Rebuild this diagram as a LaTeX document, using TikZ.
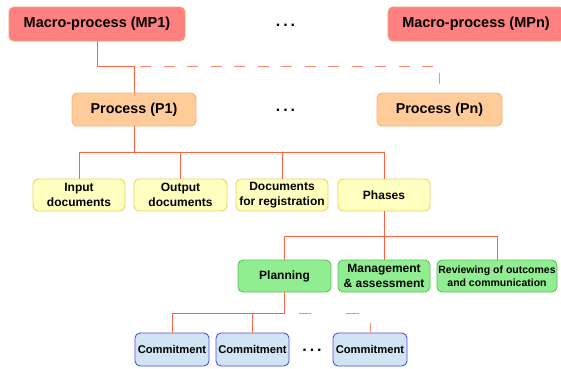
\documentclass[tikz,border=0pt]{standalone}
\usepackage{fontspec}
\setmainfont{Liberation Sans}
\begin{document}
\begin{tikzpicture}[x=1pt,y=-1pt,
  box/.style={draw, rounded corners=5pt, line width=0.9pt, inner sep=0pt, align=center, font=\bfseries, text=black},
  mpbox/.style={box, fill=mpfill, draw=mpline, minimum width=176pt, minimum height=34pt, font=\fontsize{14.5}{17}\bfseries},
  pbox/.style={box, fill=pfill, draw=pline, minimum width=124pt, minimum height=33pt, font=\fontsize{14.3}{17}\bfseries},
  ybox/.style={box, fill=yfill, draw=yline, minimum width=92pt, minimum height=32pt, font=\fontsize{12}{14.5}\bfseries},
  gbox/.style={box, fill=gfill, draw=gline, minimum width=93pt, minimum height=32pt, font=\fontsize{12}{14.5}\bfseries},
  bbox/.style={box, fill=bfill, draw=bline, minimum width=74pt, minimum height=33pt, font=\fontsize{11.2}{13}\bfseries},
  conn/.style={draw=connc, line width=1pt},
  dconn/.style={draw=dconnc, line width=1pt},
  dots/.style={font=\fontsize{16}{18}\bfseries, inner sep=0pt, anchor=base}
]
\definecolor{mpfill}{HTML}{FF8080}
\definecolor{mpline}{HTML}{F2A070}
\definecolor{pfill}{HTML}{FFCC99}
\definecolor{pline}{HTML}{F7B080}
\definecolor{yfill}{HTML}{FFFFC0}
\definecolor{yline}{HTML}{F0D060}
\definecolor{gfill}{HTML}{90EE90}
\definecolor{gline}{HTML}{60C060}
\definecolor{bfill}{HTML}{D0E4F4}
\definecolor{bline}{HTML}{5050E0}
\definecolor{connc}{HTML}{FF6440}
\definecolor{dconnc}{HTML}{FF8C70}
\newcommand{\mydots}{.\hspace{2.9pt}.\hspace{2.9pt}.}
\useasboundingbox (0,0) rectangle (561,368);

\node[mpbox] (mp1) at (97,24) {Macro-process (MP1)};
\node[mpbox] (mpn) at (476,24) {Macro-process (MPn)};
\node[dots] (d1) at (285.5,26) {\mydots};

\node[pbox] (p1) at (134,109.5) {Process (P1)};
\node[pbox, minimum width=125pt] (pn) at (439.5,109.5) {Process (Pn)};
\node[dots] (d2) at (285.5,111.5) {\mydots};

\node[ybox] (in) at (79,195) {Input\\documents};
\node[ybox, minimum width=93pt] (out) at (180.5,195) {Output\\documents};
\node[ybox] (doc) at (282,195) {Documents\\for registration};
\node[ybox] (ph) at (384,195) {Phases};

\node[gbox] (pl) at (284.5,276) {Planning};
\node[gbox, minimum width=92pt] (mg) at (384,276) {Management\\\&~assessment};
\node[gbox, minimum width=120pt, font=\fontsize{10.5}{13.5}\bfseries] (rv) at (497,276) {Reviewing of outcomes\\and communication};

\node[bbox] (c1) at (172,349.5) {Commitment};
\node[bbox, minimum width=73pt] (c2) at (252.5,349.5) {Commitment};
\node[bbox] (c3) at (370,349.5) {Commitment};
\node[dots] (d3) at (312,351.5) {\mydots};

% level 1 -> 2
\coordinate (j1) at (134,66.7);
\draw[conn] (mp1.south) |- (j1) -- (p1.north);
\draw[dconn, dash pattern=on 11pt off 12.5pt, dash phase=17.5pt] (j1) -| (pn.north);

% level 2 -> 3
\coordinate (j2) at (134,152);
\draw[conn] (p1.south) -- (j2);
\draw[conn] (in.north) |- (j2);
\draw[conn] (ph.north) |- (j2);
\draw[conn] (out.north) -- (out.north |- j2);
\draw[conn] (doc.north) -- (doc.north |- j2);

% phases -> level 4
\coordinate (j3) at (384,236);
\draw[conn] (ph.south) -- (j3);
\draw[conn] (pl.north) |- (j3);
\draw[conn] (rv.north) |- (j3);
\draw[conn] (mg.north) -- (mg.north |- j3);

% planning -> commitments
\coordinate (j4) at (284.5,313);
\draw[conn] (pl.south) -- (j4);
\draw[conn] (c1.north) |- (j4);
\draw[conn] (c2.north) -- (c2.north |- j4);
\draw[dconn, dash pattern=on 0pt off 14pt on 12pt off 35pt on 13pt off 21pt on 11pt off 20pt] (j4) -| (c3.north);
\end{tikzpicture}
\end{document}
